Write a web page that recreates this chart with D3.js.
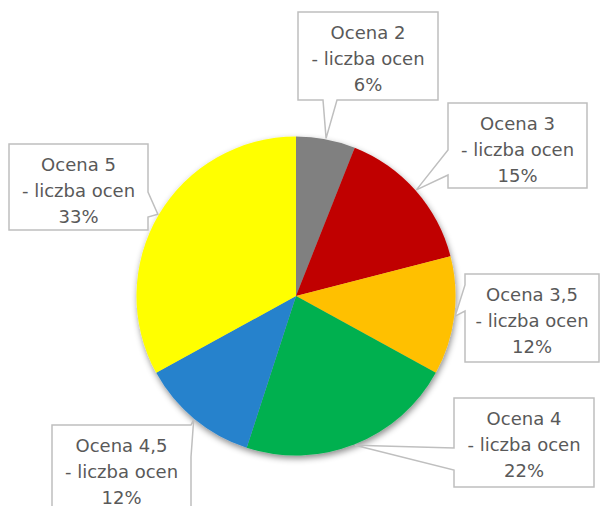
<!DOCTYPE html>
<html>
<head>
<meta charset="utf-8">
<script src="https://cdn.jsdelivr.net/npm/d3@7"></script>
<style>
  body { margin: 0; background: #fff; }
  svg { display: block; }
  .lbl text { font-family: "DejaVu Sans", sans-serif; font-size: 18px; fill: #595959; }
</style>
</head>
<body>
<svg id="chart" width="600" height="506"></svg>
<script>
// data
var categories = ["Ocena 2", "Ocena 3", "Ocena 3,5", "Ocena 4", "Ocena 4,5", "Ocena 5"];
var shares = [6, 15, 12, 22, 12, 33];
var seriesName = "liczba ocen";
var colors = ["#808080", "#c00000", "#ffc000", "#00b050", "#2882cc", "#ffff00"];

// callout boxes (x, y, w, h, side of the wedge, wedge base offsets along that side)
var boxes = [
  {x: 298, y: 12,  w: 140, h: 88, side: "bottom", b0: 25, b1: 39},
  {x: 448, y: 103, w: 139, h: 85, side: "left",   b0: 47, b1: 72},
  {x: 465, y: 274, w: 134, h: 88, side: "left",   b0: 11, b1: 37},
  {x: 454, y: 398, w: 140, h: 89, side: "left",   b0: 50, b1: 72},
  {x: 52,  y: 425, w: 139, h: 88, side: "right",  b0: 0,  b1: 32},
  {x: 9,   y: 144, w: 139, h: 86, side: "right",  b0: 48, b1: 73}
];

var width = 600, height = 506;
var cx = 296, cy = 296, radius = 159.5;

var svg = d3.select("#chart");

var defs = svg.append("defs");
var f = defs.append("filter").attr("id", "shadow")
  .attr("x", "-10%").attr("y", "-10%").attr("width", "120%").attr("height", "120%");
f.append("feDropShadow")
  .attr("dx", 1).attr("dy", 3).attr("stdDeviation", 3)
  .attr("flood-color", "#000").attr("flood-opacity", 0.45);

var pie = d3.pie().sort(null).value(function(d) { return d; });
var arcs = pie(shares);
var arc = d3.arc().innerRadius(0).outerRadius(radius);

var g = svg.append("g")
  .attr("transform", "translate(" + cx + "," + cy + ")")
  .attr("filter", "url(#shadow)");

g.selectAll("path")
  .data(arcs)
  .enter()
  .append("path")
  .attr("d", arc)
  .attr("fill", function(d, i) { return colors[i]; });

// callouts
function calloutPath(b, tx, ty) {
  var x0 = b.x, y0 = b.y, x1 = b.x + b.w, y1 = b.y + b.h;
  var p = [];
  if (b.side == "bottom") {
    p = [[x0, y0], [x1, y0], [x1, y1], [x0 + b.b1, y1], [tx, ty], [x0 + b.b0, y1], [x0, y1]];
  } else if (b.side == "left") {
    p = [[x0, y0], [x1, y0], [x1, y1], [x0, y1], [x0, y0 + b.b1], [tx, ty], [x0, y0 + b.b0]];
  } else {
    p = [[x0, y0], [x1, y0], [x1, y0 + b.b0], [tx, ty], [x1, y0 + b.b1], [x1, y1], [x0, y1]];
  }
  return "M" + p.map(function(q) { return q.join(","); }).join("L") + "Z";
}

var labels = svg.append("g").attr("class", "lbl")
  .selectAll("g")
  .data(arcs)
  .enter()
  .append("g");

labels.append("path")
  .attr("d", function(d, i) {
    var a = (d.startAngle + d.endAngle) / 2;
    var tx = cx + (radius + 1) * Math.sin(a);
    var ty = cy - (radius + 1) * Math.cos(a);
    return calloutPath(boxes[i], tx, ty);
  })
  .attr("fill", "#fff")
  .attr("stroke", "#bfbfbf")
  .attr("stroke-width", 1.5)
  .attr("stroke-linejoin", "miter");

labels.each(function(d, i) {
  var b = boxes[i];
  var t = d3.select(this).append("text")
    .attr("text-anchor", "middle");
  var lines = [categories[i], "- " + seriesName, shares[i] + "%"];
  lines.forEach(function(s, k) {
    t.append("tspan")
      .attr("x", b.x + b.w / 2)
      .attr("y", b.y + 27 + k * 26.2)
      .text(s);
  });
});
</script>
</body>
</html>
